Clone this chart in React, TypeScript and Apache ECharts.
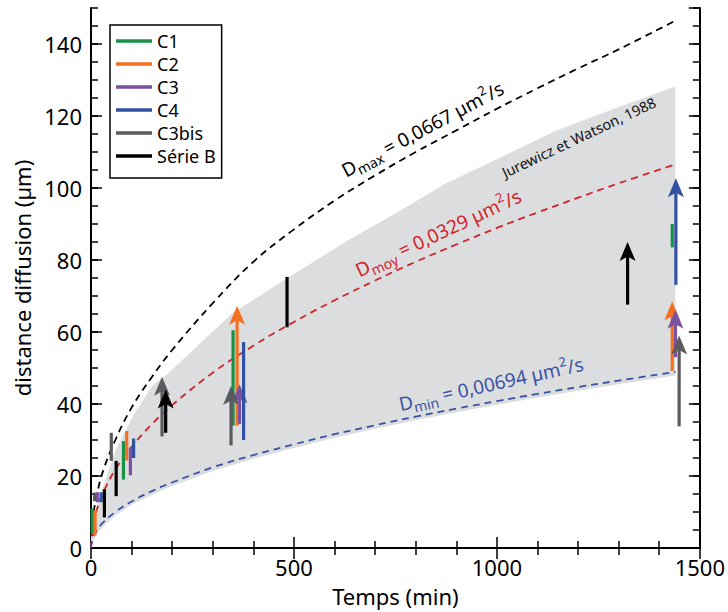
import React, { useEffect, useRef } from "react";
import * as echarts from "echarts";

// ---------- data ----------
const seriesNames = ["C1", "C2", "C3", "C4", "C3bis", "Série B"];
const seriesColors = ["#1b9148", "#f37021", "#7b51a1", "#3150a2", "#5a5b5e", "#000000"];

// [time (min), low (µm), high (µm), arrow (1 = lower bound, arrow up)]
const c1 = [[3, 4, 11, 0], [80, 19, 29.7, 0], [350, 34, 60.5, 0], [1432, 83.5, 90, 0]];
const c2 = [[10, 3.5, 10.5, 0], [88, 24.3, 32.5, 0], [360, 34, 67.3, 1], [1432, 49.2, 68.5, 1]];
const c3 = [[16, 12.7, 15.5, 0], [97, 20.2, 27.9, 0], [366, 34.5, 45.5, 1], [1440, 53, 66.2, 1]];
const c4 = [[25, 12.7, 15.5, 0], [105, 25, 30.4, 0], [376, 30, 57.2, 0], [1441, 73.1, 102.7, 1]];
const c3bis = [[9, 13, 15.4, 0], [50, 24.2, 32, 0], [175, 31, 47.6, 1], [345, 28.5, 45, 1], [1449, 33.8, 59, 1]];
const serieB = [[33, 8.5, 16.3, 0], [62, 14.4, 24.2, 0], [184, 32, 44, 1], [483, 61.3, 75.3, 0], [1322, 67.6, 85, 1]];
const allSeries = [c1, c2, c3, c4, c3bis, serieB];

// theoretical diffusion curves
const tCurve = [0, 5, 15, 30, 60, 100, 150, 200, 300, 400, 500, 600, 700, 800, 900, 1000, 1100, 1200, 1300, 1440];
const dMax = [0, 8.5, 15, 21.5, 30, 39, 47.5, 55, 68, 79.5, 88.5, 96.5, 103.5, 110, 116, 122, 127.7, 133.2, 138.5, 146.5];
const dMoy = [0, 6.3, 10.9, 15.4, 21.8, 28.1, 34.4, 39.7, 48.7, 56.2, 62.8, 68.8, 74.3, 79.5, 84.3, 88.9, 93.2, 97.3, 101.3, 106.6];
const dMin = [0, 2.9, 5, 7.1, 10, 12.9, 15.8, 18.2, 22.4, 25.8, 28.8, 31.6, 34.1, 36.5, 38.7, 40.8, 42.8, 44.7, 46.5, 48.9];

// Jurewicz et Watson (1988) envelope
const bandUpperT = [0, 15, 30, 60, 100, 150, 190, 256, 346, 477, 641, 748, 876, 1000, 1147, 1300, 1440];
const bandUpper = [4, 12, 17, 27, 36, 45, 48.5, 55.5, 65, 74.5, 86, 92.8, 101.4, 108, 116, 122.5, 128.2];
const bandLowerT = tCurve;
const bandLower = [0, 2, 4, 6, 9, 12, 14.8, 17.2, 21.4, 24.8, 27.8, 30.6, 33.1, 35.5, 37.7, 39.8, 41.8, 43.7, 45.5, 47.9];

const yTicks = [0, 20, 40, 60, 80, 100, 120, 140];

const FONT = '"Noto Sans", "Open Sans", sans-serif';

function renderRange(params: any, api: any) {
  const t = api.value(0);
  const lo = api.value(1);
  const hi = api.value(2);
  const arrow = api.value(3);
  const pLo = api.coord([t, lo]);
  const pHi = api.coord([t, hi]);
  const color = api.visual("color");
  const w = 3.2;
  const children: any[] = [];
  if (arrow) {
    const hw = 8, hh = 19, notch = 4.5;
    const shaftTop = pHi[1] + hh - notch - 1;
    children.push({
      type: "rect",
      shape: { x: pLo[0] - w / 2, y: shaftTop, width: w, height: pLo[1] - shaftTop },
      style: { fill: color },
    });
    children.push({
      type: "polygon",
      shape: {
        points: [
          [pHi[0], pHi[1]],
          [pHi[0] + hw, pHi[1] + hh],
          [pHi[0], pHi[1] + hh - notch],
          [pHi[0] - hw, pHi[1] + hh],
        ],
      },
      style: { fill: color },
    });
  } else {
    children.push({
      type: "rect",
      shape: { x: pLo[0] - w / 2, y: pHi[1], width: w, height: pLo[1] - pHi[1] },
      style: { fill: color },
    });
  }
  return { type: "group", children };
}

function renderBand(params: any, api: any) {
  const pts: number[][] = [];
  for (let i = 0; i < bandUpperT.length; i++) pts.push(api.coord([bandUpperT[i], bandUpper[i]]));
  for (let i = bandLowerT.length - 1; i >= 0; i--) pts.push(api.coord([bandLowerT[i], bandLower[i]]));
  return { type: "polygon", shape: { points: pts }, style: { fill: "#dcdddf" }, silent: true };
}

const tickStyle = { color: "#000", width: 1.5 };

export default function App() {
  const ref = useRef<HTMLDivElement>(null);
  useEffect(() => {
    const chart = echarts.init(ref.current!, null, { renderer: "svg" });
    const deg = Math.PI / 180;
    const richFor = (color: string, size: number) => ({
      a: { font: `${size}px ${FONT}`, fill: color, lineHeight: 26 },
      b: { font: `${Math.round(size * 0.72)}px ${FONT}`, fill: color, lineHeight: 14, verticalAlign: "bottom" },
      c: { font: `${Math.round(size * 0.68)}px ${FONT}`, fill: color, lineHeight: 12, verticalAlign: "top" },
    });
    const lineSeries = (name: string, vals: number[], color: string) => ({
      type: "line", name, data: tCurve.map((t, i) => [t, vals[i]]), showSymbol: false,
      smooth: 0.4, lineStyle: { color, width: 1.8, type: [7, 5] }, z: 2, silent: true,
    });
    const option: any = {
      animation: false,
      backgroundColor: "#fff",
      grid: { left: 91, right: 28, top: 8, bottom: 63 },
      legend: {
        data: seriesNames.map((n) => ({ name: n, icon: "rect" })),
        orient: "vertical",
        left: 110,
        top: 25,
        itemWidth: 36,
        itemHeight: 3.5,
        itemGap: 3,
        padding: [6, 6, 12, 6],
        borderColor: "#000",
        borderWidth: 1.5,
        selectedMode: false,
        textStyle: { fontSize: 18, color: "#000", fontFamily: FONT, lineHeight: 20 },
      },
      xAxis: [
        {
          type: "value", min: 0, max: 1500, interval: 500, position: "bottom",
          axisLine: { lineStyle: { color: "#000", width: 2 } },
          axisTick: { inside: true, length: 11, lineStyle: tickStyle },
          minorTick: { show: true, splitNumber: 5, length: 7, lineStyle: tickStyle },
          splitLine: { show: false },
          axisLabel: { fontSize: 22, color: "#000", margin: 8, fontFamily: FONT, formatter: (v: number) => String(v) },
          name: "Temps (min)", nameLocation: "middle", nameGap: 37,
          nameTextStyle: { fontSize: 22, color: "#000", fontFamily: FONT },
        },
        {
          type: "value", min: 0, max: 1500, interval: 500, position: "top",
          axisLine: { lineStyle: { color: "#000", width: 2 } },
          axisTick: { inside: true, length: 11, lineStyle: tickStyle },
          minorTick: { show: true, splitNumber: 5, length: 7, lineStyle: tickStyle },
          splitLine: { show: false },
          axisLabel: { show: false },
        },
      ],
      yAxis: [
        {
          type: "value", min: 0, max: 150, interval: 20, position: "left",
          axisLine: { lineStyle: { color: "#000", width: 2 } },
          axisTick: { inside: true, length: 11, lineStyle: tickStyle },
          splitLine: { show: false },
          axisLabel: {
            fontSize: 22, color: "#000", margin: 9, fontFamily: FONT, showMaxLabel: false,
            formatter: (v: number) => (yTicks.includes(v) ? String(v) : ""),
          },
          name: "distance diffusion (µm)", nameLocation: "middle", nameGap: 55,
          nameTextStyle: { fontSize: 22, color: "#000", fontFamily: FONT },
        },
        {
          type: "value", min: 0, max: 150, interval: 5, position: "left",
          axisLine: { show: false },
          axisTick: { inside: true, length: 7, lineStyle: tickStyle },
          splitLine: { show: false }, axisLabel: { show: false },
        },
        {
          type: "value", min: 0, max: 150, interval: 20, position: "right",
          axisLine: { lineStyle: { color: "#000", width: 2 } },
          axisTick: { inside: true, length: 11, lineStyle: tickStyle },
          splitLine: { show: false }, axisLabel: { show: false },
        },
        {
          type: "value", min: 0, max: 150, interval: 5, position: "right",
          axisLine: { show: false },
          axisTick: { inside: true, length: 7, lineStyle: tickStyle },
          splitLine: { show: false }, axisLabel: { show: false },
        },
      ],
      series: [
        {
          type: "custom", name: "band", renderItem: renderBand, data: [[0, 0]],
          silent: true, z: 1, clip: true,
        },
        lineSeries("Dmax", dMax, "#000"),
        lineSeries("Dmoy", dMoy, "#d2232a"),
        lineSeries("Dmin", dMin, "#3a52a4"),
        ...allSeries.map((d, i) => ({
          type: "custom",
          name: seriesNames[i],
          renderItem: renderRange,
          data: d,
          itemStyle: { color: seriesColors[i] },
          encode: { x: 0, y: [1, 2] },
          z: 3 + i,
        })),
      ],
      graphic: [
        {
          type: "text", x: 349, y: 183, rotation: 28 * deg, z: 20,
          style: {
            text: "{a|D}{b|max}{a| = 0,0667 µm}{c|2}{a|/s}",
            rich: richFor("#000", 19), fill: "#000", verticalAlign: "bottom", align: "left",
          },
        },
        {
          type: "text", x: 362, y: 283, rotation: 25 * deg, z: 20,
          style: {
            text: "{a|D}{b|moy}{a| = 0,0329 µm}{c|2}{a|/s}",
            rich: richFor("#d2232a", 19), fill: "#d2232a", verticalAlign: "bottom", align: "left",
          },
        },
        {
          type: "text", x: 402, y: 417, rotation: 12.5 * deg, z: 20,
          style: {
            text: "{a|D}{b|min}{a| = 0,00694 µm}{c|2}{a|/s}",
            rich: richFor("#3a52a4", 19), fill: "#3a52a4", verticalAlign: "bottom", align: "left",
          },
        },
        {
          type: "text", x: 506, y: 180, rotation: 25.3 * deg, z: 20,
          style: {
            text: "Jurewicz et Watson, 1988",
            font: `14.5px ${FONT}`, fill: "#111", verticalAlign: "bottom", align: "left",
          },
        },
      ],
    };
    chart.setOption(option);
    return () => chart.dispose();
  }, []);
  return (
    <div
      ref={ref}
      style={{ position: "fixed", left: 0, top: 0, width: 728, height: 612, background: "#fff" }}
    />
  );
}
